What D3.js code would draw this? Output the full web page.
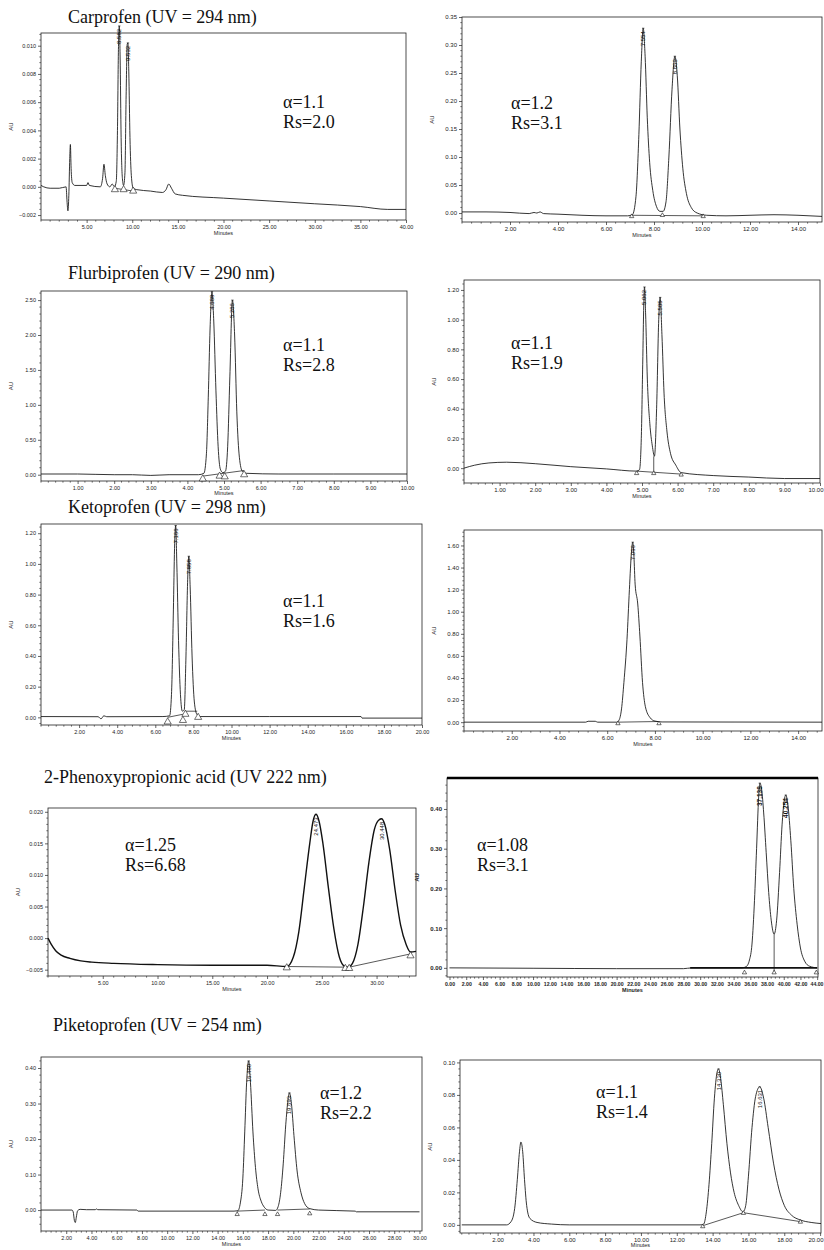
<!DOCTYPE html>
<html><head><meta charset="utf-8">
<script src="https://cdn.jsdelivr.net/npm/d3@7"></script>
<style>body{margin:0;background:#fff}</style>
</head><body>
<script>
// ================= DATA =================
const titles = ["Carprofen (UV = 294 nm)", "Flurbiprofen (UV = 290 nm)", "Ketoprofen (UV = 298 nm)",
  "2-Phenoxypropionic acid (UV 222 nm)", "Piketoprofen  (UV = 254 nm)"];
const alphaTexts = ["α=1.1","α=1.2","α=1.1","α=1.1","α=1.1",null,"α=1.25","α=1.08","α=1.2","α=1.1"];
const rsTexts    = ["Rs=2.0","Rs=3.1","Rs=2.8","Rs=1.9","Rs=1.6",null,"Rs=6.68","Rs=3.1","Rs=2.2","Rs=1.4"];

// chromatogram traces: [minutes, AU]
const carprofenL = [[0,0.0001],[0.3,0],[1,-0.0001],[2,-0.0001],[2.75,0],[2.85,-0.001],[2.95,-0.0017],[3.05,-0.0006],[3.15,0.002],[3.22,0.003],[3.3,0.0013],[3.42,0.0003],[3.7,0.0001],[5.0,0.0001],[5.15,0.0003],[5.3,0.0001],[6.5,0],[6.75,0.0006],[6.9,0.0016],[7.05,0.0008],[7.25,0.0002],[7.55,0],[7.8,0.0002],[8.05,0],[8.25,0.0004],[8.38,0.004],[8.48,0.0095],[8.58,0.0114],[8.67,0.0092],[8.78,0.0035],[8.92,0.0006],[9.05,0.0001],[9.2,0.001],[9.33,0.0065],[9.45,0.0101],[9.53,0.0102],[9.62,0.0082],[9.75,0.0035],[9.9,0.0008],[10.1,-0.0001],[10.5,-0.0002],[12,-0.0003],[13.3,-0.0004],[13.7,-0.0002],[14.0,0.0002],[14.3,-0.0001],[14.7,-0.0005],[15.5,-0.0006],[20,-0.0008],[25,-0.001],[30,-0.0012],[35,-0.0014],[38,-0.0016],[40,-0.0016]];
const carprofenR = [[0,0.002],[1,0.002],[2,0.001],[2.8,-0.001],[3.0,0.001],[3.12,0],[3.25,0.002],[3.4,-0.001],[4,-0.002],[5,-0.004],[6,-0.005],[6.9,-0.005],[7.1,-0.003],[7.25,0.03],[7.37,0.14],[7.47,0.27],[7.55,0.33],[7.63,0.28],[7.72,0.17],[7.82,0.09],[7.95,0.04],[8.1,0.012],[8.25,0.003],[8.38,0.003],[8.5,0.02],[8.62,0.1],[8.75,0.22],[8.87,0.28],[8.97,0.245],[9.08,0.15],[9.2,0.08],[9.35,0.035],[9.55,0.01],[9.8,0],[10.2,-0.004],[11,-0.005],[12,-0.004],[13,-0.003],[14,-0.004],[15,-0.006]];
const flurbiL = [[0,0.01],[1,0.01],[2,0],[2.5,0],[3,-0.01],[3.5,0],[4.3,0],[4.45,0.02],[4.52,0.3],[4.57,1.1],[4.62,2.1],[4.67,2.62],[4.72,2.2],[4.78,1.2],[4.84,0.4],[4.9,0.08],[4.97,0.03],[5.04,0.05],[5.1,0.4],[5.16,1.4],[5.23,2.5],[5.29,2.0],[5.35,0.9],[5.42,0.25],[5.5,0.05],[5.62,0.02],[6.5,0.01],[8,0.01],[10,0.01]];
const flurbiR = [[0,0],[0.3,0.02],[0.7,0.035],[1.2,0.04],[2,0.03],[3,0.01],[4,-0.005],[4.85,-0.02],[4.93,-0.01],[4.98,0.2],[5.02,0.7],[5.05,1.1],[5.07,1.22],[5.1,1.05],[5.15,0.6],[5.22,0.3],[5.29,0.15],[5.35,0.08],[5.41,0.4],[5.47,1.0],[5.51,1.15],[5.56,0.9],[5.62,0.5],[5.7,0.25],[5.8,0.1],[5.95,0.02],[6.1,-0.03],[7,-0.05],[8,-0.06],[9,-0.07],[10,-0.07]];
const ketoL = [[0,0.005],[3,0.004],[3.15,-0.01],[3.3,0.01],[3.45,0.004],[6.4,0.005],[6.75,0.01],[6.85,0.15],[6.95,0.7],[7.01,1.1],[7.07,1.25],[7.13,1.0],[7.22,0.5],[7.32,0.15],[7.42,0.04],[7.52,0.05],[7.61,0.4],[7.7,0.9],[7.76,1.05],[7.83,0.85],[7.93,0.4],[8.05,0.1],[8.18,0.02],[8.35,0.005],[12,0.005],[16.8,0.005],[16.85,-0.005],[20,-0.005]];
const ketoR = [[0,0],[5.1,0],[5.2,0.008],[5.5,0.008],[5.6,0],[6.4,0],[6.5,0.02],[6.6,0.12],[6.7,0.36],[6.83,0.75],[6.93,1.2],[7.02,1.55],[7.07,1.63],[7.12,1.5],[7.17,1.25],[7.28,1.07],[7.37,0.78],[7.48,0.36],[7.6,0.14],[7.8,0.04],[8.0,0.01],[8.3,0.002],[15,0]];
const phenoxyL = [[0,0],[0.3,-0.001],[0.7,-0.002],[1.2,-0.0027],[2,-0.0032],[3,-0.0036],[4,-0.0038],[6,-0.004],[10,-0.0042],[15,-0.0043],[20,-0.0043],[21.8,-0.0045],[22.4,-0.003],[22.9,0.001],[23.4,0.008],[23.9,0.015],[24.2,0.0185],[24.47,0.0196],[24.75,0.0185],[25.1,0.015],[25.6,0.008],[26.1,0.0015],[26.6,-0.003],[27.1,-0.0045],[27.4,-0.0046],[27.8,-0.004],[28.3,-0.001],[28.8,0.005],[29.3,0.012],[29.8,0.0172],[30.15,0.0186],[30.45,0.0189],[30.75,0.018],[31.2,0.014],[31.7,0.0075],[32.2,0.002],[32.7,-0.001],[33.1,-0.0022],[33.6,-0.0021]];
const phenoxyR = [[0,0],[10,-0.001],[20,-0.002],[28,-0.002],[29,0],[35,0],[35.5,0.003],[35.9,0.02],[36.2,0.06],[36.5,0.17],[36.75,0.3],[37.0,0.43],[37.14,0.465],[37.35,0.45],[37.6,0.39],[37.9,0.29],[38.2,0.19],[38.5,0.12],[38.85,0.085],[39.15,0.12],[39.5,0.24],[39.8,0.36],[40.05,0.42],[40.25,0.435],[40.5,0.41],[40.85,0.32],[41.2,0.2],[41.6,0.11],[42.0,0.05],[42.5,0.017],[43.1,0.004],[44,0]];
const piketoL = [[0,0],[2.45,0],[2.55,-0.005],[2.65,-0.03],[2.72,-0.035],[2.8,-0.02],[2.9,-0.002],[3.1,0.002],[3.6,0.001],[4.3,0.001],[4.4,0.003],[4.5,0.001],[7.6,0],[7.7,-0.003],[15.3,-0.003],[15.6,-0.002],[15.8,0.02],[16.0,0.09],[16.15,0.22],[16.3,0.36],[16.46,0.42],[16.6,0.36],[16.8,0.22],[17.0,0.12],[17.2,0.06],[17.45,0.025],[17.7,0.008],[18.0,0],[18.6,-0.001],[18.8,0.01],[19.0,0.05],[19.2,0.13],[19.4,0.24],[19.58,0.31],[19.69,0.33],[19.85,0.3],[20.05,0.21],[20.3,0.11],[20.6,0.05],[20.9,0.018],[21.3,0.004],[22,0],[24.9,-0.003],[25.0,-0.005],[30,-0.005]];
const piketoR = [[0,0],[2.5,0],[2.75,0.002],[2.95,0.01],[3.1,0.028],[3.22,0.045],[3.3,0.051],[3.4,0.045],[3.5,0.028],[3.62,0.012],[3.8,0.004],[4.2,0.0015],[5.0,0.0005],[6.0,0],[13.3,0],[13.5,0.0005],[13.65,0.008],[13.8,0.025],[13.95,0.05],[14.1,0.078],[14.25,0.094],[14.33,0.096],[14.45,0.09],[14.6,0.074],[14.8,0.05],[15.0,0.032],[15.2,0.02],[15.45,0.012],[15.7,0.008],[15.85,0.012],[16.0,0.03],[16.2,0.06],[16.4,0.079],[16.63,0.085],[16.85,0.078],[17.1,0.06],[17.4,0.038],[17.7,0.022],[18.0,0.012],[18.4,0.006],[18.9,0.003],[19.5,0.0015],[20.05,0.0008]];

// peak retention-time labels
const peakTimes  = [[8.58,9.53],[7.55,8.87],[4.67,5.23],[5.07,5.51],[7.07,7.76],[7.07],[24.47,30.45],[37.14,40.25],[16.46,19.69],[14.33,16.63]];
const peakLabels = [["8.582","9.532"],["7.554","8.869"],["4.688","5.286"],["5.062","5.505"],["7.166","7.858"],["7.066"],["24.473","30.448"],["37.138","40.254"],["16.460","19.693"],["14.330","16.631"]];
// integration markers (triangles) [minutes, AU]
const markers = [
  [[8.1,-0.0002],[9.05,-0.0002],[10.1,-0.0003]],
  [[7.07,-0.006],[8.35,-0.004],[10.05,-0.006]],
  [[4.42,-0.06],[4.88,-0.02],[5.02,-0.03],[5.55,0.0]],
  [[4.85,-0.035],[5.33,-0.035],[6.1,-0.045]],
  [[6.65,-0.03],[7.45,-0.02],[7.58,0.02],[8.25,0.0]],
  [[6.45,-0.012],[8.17,-0.012]],
  [[21.8,-0.0047],[27.15,-0.0048],[27.5,-0.0048],[33.1,-0.0028]],
  [[35.3,-0.012],[38.85,-0.012],[43.9,-0.012]],
  [[15.55,-0.012],[17.75,-0.012],[18.75,-0.012],[21.3,-0.01]],
  [[13.45,-0.001],[15.72,0.0072],[18.9,0.0018]]
];
// integration baselines / drop lines [t1, y1, t2, y2]
const baselines = [
  [[8.1,-0.0001,10.1,-0.0003]],
  [[7.07,-0.004,10.05,-0.005]],
  [[4.42,-0.02,5.55,0.06]],
  [[4.85,-0.02,6.1,-0.04],[5.33,0.08,5.33,-0.03]],
  [[6.65,0.0,7.45,0.02],[7.55,0.04,8.2,0.04]],
  [[6.45,0.0,8.17,0.006]],
  [[21.8,-0.0045,27.15,-0.0046],[27.5,-0.0046,33.1,-0.0025]],
  [[38.85,0.085,38.85,-0.01],[28.8,0,44,0]],
  [[15.55,-0.003,17.75,0.0],[18.75,0.0,21.3,0.003]],
  [[13.45,-0.0005,15.72,0.0075],[15.72,0.0075,18.9,0.002]]
];

// axis tick values
const xTicksList = [
  [5,10,15,20,25,30,35,40],
  [2,4,6,8,10,12,14],
  [1,2,3,4,5,6,7,8,9,10],
  [1,2,3,4,5,6,7,8,9,10],
  [2,4,6,8,10,12,14,16,18,20],
  [2,4,6,8,10,12,14],
  [5,10,15,20,25,30],
  [0,2,4,6,8,10,12,14,16,18,20,22,24,26,28,30,32,34,36,38,40,42,44],
  [2,4,6,8,10,12,14,16,18,20,22,24,26,28,30],
  [2,4,6,8,10,12,14,16,18,20]
];
const yTicksList = [
  [-0.002,0,0.002,0.004,0.006,0.008,0.010],
  [0,0.05,0.10,0.15,0.20,0.25,0.30,0.35],
  [0,0.5,1.0,1.5,2.0,2.5],
  [0,0.2,0.4,0.6,0.8,1.0,1.2],
  [0,0.2,0.4,0.6,0.8,1.0,1.2],
  [0,0.2,0.4,0.6,0.8,1.0,1.2,1.4,1.6],
  [-0.005,0,0.005,0.010,0.015,0.020],
  [0,0.10,0.20,0.30,0.40],
  [0,0.10,0.20,0.30,0.40],
  [0,0.02,0.04,0.06,0.08,0.10]
];
const xDomains = [[0,40],[0,15],[0,10],[0,10],[0,20],[0,15],[0,33.6],[-0.3,44.1],[0,30.2],[-0.1,20.05]];
const yDomains = [[-0.00235,0.0109],[-0.016,0.35],[-0.09,2.63],[-0.10,1.267],[-0.05,1.26],[-0.08,1.74],[-0.006,0.0206],[-0.023,0.478],[-0.059,0.431],[-0.005,0.1015]];
const traces = [carprofenL,carprofenR,flurbiL,flurbiR,ketoL,ketoR,phenoxyL,phenoxyR,piketoL,piketoR];

// ================= LAYOUT (pixels) =================
const frames = [
  [41,33,406,220],[462,17,822,222],
  [41,291,407,481],[464,280,820,483],
  [41,524,422,725],[464,530,822,731],
  [48,808,416,976],[447,778,818,977],
  [41,1057,422,1231],[460,1060,821,1233]
];
const titlePos = [[68,23],[68,279],[68,513],[44,783],[53,1031]];
const textPos = [[283,108],[511,109],[283,351],[511,349],[283,607],null,[125,851],[477,851],[320,1099],[596,1098]];
const minutesOffset = [15,15,14,15,15,15,15,15,15,15];
const yFmt = [".3f",".2f",".2f",".2f",".2f",".2f",".3f",".2f",".2f",".2f"];

const W = 824, H = 1250;
const svg = d3.select("body").append("svg").attr("width", W).attr("height", H)
  .style("font-family", "'Liberation Sans', Arial, sans-serif");
svg.append("rect").attr("width", W).attr("height", H).attr("fill", "#fff");

// titles
svg.selectAll("text.title").data(titles).join("text")
  .attr("class","title")
  .attr("x", (d,i) => titlePos[i][0]).attr("y", (d,i) => titlePos[i][1])
  .attr("font-family","'Liberation Serif','Times New Roman',serif")
  .attr("font-size", 18).attr("fill","#111").text(d => d);

function minorTicks(major, domain, div) {
  const step = major[1] - major[0];
  const ms = step / div;
  const out = [];
  const start = major[0] - Math.floor((major[0]-domain[0]) / ms) * ms;
  for (let v = start; v <= domain[1] + 1e-9; v += ms) {
    if (!major.some(m => Math.abs(m - v) < ms * 0.1)) out.push(v);
  }
  return out;
}

traces.forEach((data, i) => {
  const [x0,y0,x1,y1] = frames[i];
  const bold = (i === 7);
  const x = d3.scaleLinear().domain(xDomains[i]).range([x0,x1]);
  const y = d3.scaleLinear().domain(yDomains[i]).range([y1,y0]);
  const g = svg.append("g");

  // frame
  g.append("rect").attr("x",x0).attr("y",y0).attr("width",x1-x0).attr("height",y1-y0)
    .attr("fill","none").attr("stroke","#222").attr("stroke-width",0.8);
  if (bold) g.append("line").attr("x1",x0).attr("x2",x1).attr("y1",y0).attr("y2",y0)
    .attr("stroke","#000").attr("stroke-width",2.5);

  const fs = (i % 2 === 0 && !bold) ? 5.5 : 6;
  // x axis
  const ax = d3.axisBottom(x).tickValues(xTicksList[i]).tickFormat(d3.format(".2f")).tickSize(3).tickPadding(2);
  const gx = g.append("g").attr("transform",`translate(0,${y1})`).call(ax);
  gx.select(".domain").remove();
  gx.selectAll("line").attr("stroke","#222").attr("stroke-width",0.7);
  gx.selectAll("text").attr("font-size", bold ? 5.2 : fs).attr("fill","#222")
    .attr("font-weight", bold ? "bold" : "normal")
    .attr("text-anchor", d => x(d) > W - 9 ? "end" : "middle")
    .attr("dx", d => x(d) > W - 9 ? (W - 1 - x(d)) : 0);
  gx.selectAll(".tick").filter(d => d > xDomains[i][1]).remove();
  // minor x ticks
  g.selectAll(null).data(minorTicks(xTicksList[i], xDomains[i], bold ? 4 : 5).filter(v => v >= xDomains[i][0] && v <= xDomains[i][1]))
    .join("line").attr("x1",d=>x(d)).attr("x2",d=>x(d)).attr("y1",y1).attr("y2",y1+1.7)
    .attr("stroke","#222").attr("stroke-width",0.6);

  // y axis
  const ay = d3.axisLeft(y).tickValues(yTicksList[i]).tickFormat(d3.format(yFmt[i])).tickSize(3).tickPadding(2);
  const gy = g.append("g").attr("transform",`translate(${x0},0)`).call(ay);
  gy.select(".domain").remove();
  gy.selectAll("line").attr("stroke","#222").attr("stroke-width",0.7);
  gy.selectAll("text").attr("font-size", fs).attr("fill","#222").attr("font-weight", bold ? "bold" : "normal");
  g.selectAll(null).data(minorTicks(yTicksList[i], yDomains[i], 5).filter(v => v >= yDomains[i][0] && v <= yDomains[i][1]))
    .join("line").attr("x1",x0).attr("x2",x0-1.7).attr("y1",d=>y(d)).attr("y2",d=>y(d))
    .attr("stroke","#222").attr("stroke-width",0.6);

  // axis titles
  g.append("text").attr("transform",`translate(${x0-28},${(y0+y1)/2}) rotate(-90)`)
    .attr("text-anchor","middle").attr("font-size",6).attr("fill","#222")
    .attr("font-weight", bold ? "bold" : "normal").text("AU");
  g.append("text").attr("x",(x0+x1)/2).attr("y",Math.min(y1+minutesOffset[i], H-3)).attr("text-anchor","middle")
    .attr("font-size",5.5).attr("fill","#222").attr("font-weight", bold ? "bold" : "normal").text("Minutes");

  // integration baselines
  g.selectAll(null).data(baselines[i]).join("line")
    .attr("x1",d=>x(d[0])).attr("y1",d=>y(d[1])).attr("x2",d=>x(d[2])).attr("y2",d=>y(d[3]))
    .attr("stroke","#111").attr("stroke-width",(d,k)=> (bold && k===1) ? 1.8 : 0.7);

  // trace
  const line = d3.line().x(d=>x(d[0])).y(d=>y(d[1])).curve(d3.curveMonotoneX);
  g.append("path").datum(data).attr("d",line).attr("fill","none")
    .attr("stroke","#111").attr("stroke-width", i === 6 ? 1.4 : 0.85).attr("stroke-linejoin","round");

  // markers
  const tri = d3.symbol().type(d3.symbolTriangle).size(i === 6 || i === 2 || i === 4 || i === 0 ? 22 : 8);
  g.selectAll(null).data(markers[i]).join("path")
    .attr("transform",d=>`translate(${x(d[0])},${y(d[1])})`)
    .attr("d",tri).attr("fill","#fff").attr("stroke","#111").attr("stroke-width",0.6);

  // peak labels
  peakTimes[i].forEach((t, k) => {
    let best = data[0];
    data.forEach(p => { if (Math.abs(p[0]-t) < Math.abs(best[0]-t)) best = p; });
    const px = x(t), py = y(best[1]);
    g.append("line").attr("x1",px-1.2).attr("x2",px+1.2).attr("y1",py).attr("y2",py)
      .attr("stroke","#111").attr("stroke-width",0.6);
    g.append("text").attr("transform",`translate(${px+2},${py+3}) rotate(-90)`)
      .attr("text-anchor","end").attr("font-size", bold ? 6.5 : 6).attr("fill","#111")
      .attr("font-weight", bold ? "bold" : "normal").text(peakLabels[i][k]);
  });

  // alpha / Rs annotations
  if (textPos[i]) {
    const t = g.append("text").attr("font-family","'Liberation Serif','Times New Roman',serif")
      .attr("font-size",18).attr("fill","#111");
    t.append("tspan").attr("x",textPos[i][0]).attr("y",textPos[i][1]).text(alphaTexts[i]);
    t.append("tspan").attr("x",textPos[i][0]).attr("y",textPos[i][1]+20).text(rsTexts[i]);
  }
});
</script>
</body></html>
